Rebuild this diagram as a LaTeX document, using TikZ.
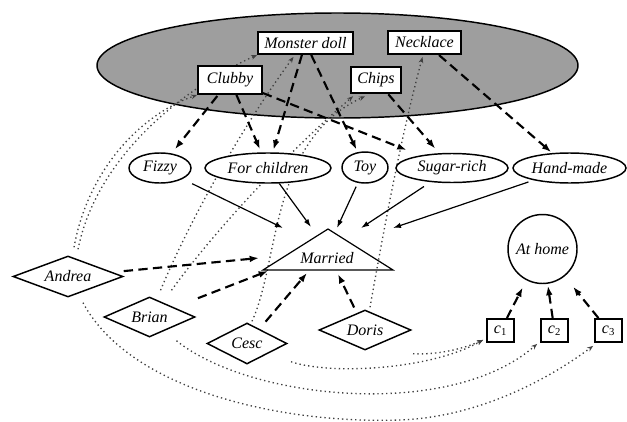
\documentclass[tikz,border=0pt]{standalone}
\usepackage{fontspec}
\setmainfont{Liberation Serif}
\usetikzlibrary{shapes.geometric,arrows.meta}
\pgfdeclarelayer{backdrop}
\pgfdeclarelayer{links}
\pgfsetlayers{backdrop,links,main}

\begin{document}
\begin{tikzpicture}[x=0.75pt,y=-0.75pt,
  font=\fontsize{12}{14}\selectfont\itshape,
  every node/.style={inner sep=0pt},
  gift/.style={draw,fill=white,line width=1.4pt,rectangle},
  attr/.style={draw,fill=white,ellipse,line width=1.1pt},
  person/.style={draw,fill=white,diamond,aspect=2.5,line width=1.1pt},
  cvar/.style={draw,fill=white,line width=1.4pt,minimum width=20.25pt,minimum height=17.25pt},
  dep/.style={line width=0.9pt,-{Latex[length=6pt,width=4pt]}},
  infl/.style={line width=1.6pt,dash pattern=on 7pt off 4pt,-{Latex[length=7pt,width=5pt]}},
  link/.style={black!75,line width=1pt,dash pattern=on 1pt off 2.3pt,-{Stealth[length=4.5pt,width=3.5pt]}}
]
\useasboundingbox (0,0) rectangle (627,421);

% shaded set of gifts
\begin{pgfonlayer}{backdrop}
\node[draw,fill=black!38,ellipse,line width=1.1pt,minimum width=360.75pt,minimum height=78.75pt] (gifts) at (337.5,65.5) {};
\end{pgfonlayer}

% gifts
\node[gift,minimum width=71.25pt,minimum height=16.5pt] (monster) at (305.5,43) {Monster doll};
\node[gift,minimum width=54.75pt,minimum height=17.5pt] (necklace) at (424.5,42.5) {Necklace};
\node[gift,minimum width=48pt,minimum height=21pt] (clubby) at (230,80) {Clubby};
\node[gift,minimum width=37.5pt,minimum height=20pt] (chips) at (376,80) {Chips};

% attributes of gifts
\node[attr,minimum width=46.5pt,minimum height=22.5pt] (fizzy) at (160,168) {Fizzy};
\node[attr,minimum width=94.5pt,minimum height=22.5pt] (forchildren) at (268,168) {For children};
\node[attr,minimum width=34.5pt,minimum height=23.25pt] (toy) at (365,167.5) {Toy};
\node[attr,minimum width=84pt,minimum height=21.75pt] (sugarrich) at (452,168) {Sugar-rich};
\node[attr,minimum width=84.75pt,minimum height=22.5pt] (handmade) at (569.5,168) {Hand-made};

% married
\coordinate (marL) at (263,270);
\coordinate (marT) at (328,229);
\coordinate (marR) at (393,270);
\draw[line width=0.9pt] (marL) -- (marT) -- (marR) -- cycle;
\node (married) at (327,258) {Married};

% at home and its cases
\node[draw,circle,line width=1.1pt,minimum size=51.75pt] (athome) at (542.5,249) {At home};
\node[cvar] (c1) at (500.5,330.5) {c\textsubscript{\upshape 1}};
\node[cvar] (c2) at (554.5,330.5) {c\textsubscript{\upshape 2}};
\node[cvar] (c3) at (608.5,330.5) {c\textsubscript{\upshape 3}};

% people
\node[person,minimum width=82.5pt,minimum height=30.75pt] (andrea) at (68,276.5) {Andrea};
\node[person,minimum width=68.25pt,minimum height=30pt] (brian) at (149.5,317) {Brian};
\node[person,minimum width=60pt,minimum height=30.75pt] (cesc) at (247,343.5) {Cesc};
\node[person,minimum width=69pt,minimum height=30pt] (doris) at (365,330) {Doris};

% gift properties
\draw[infl,shorten <=1pt,shorten >=4pt] (clubby) -- (fizzy);
\draw[infl,shorten >=2.5pt] (clubby) -- (forchildren);
\draw[infl,shorten >=2pt] (monster) -- (forchildren);
\draw[infl,shorten >=2pt] (monster) -- (toy);
\draw[infl,shorten >=11pt] (clubby) -- (sugarrich);
\draw[infl,shorten >=4.5pt] (chips) -- (sugarrich);
\draw[infl,shorten >=1pt] (necklace) -- (handmade);

% properties bearing on marriage
\coordinate (m1) at (283,228);
\coordinate (m2) at (311,227);
\coordinate (m3) at (337,228);
\coordinate (m4) at (361,228);
\coordinate (m5) at (393,228);
\draw[dep,shorten <=8pt] (fizzy) -- (m1);
\draw[dep] (forchildren) -- (m2);
\draw[dep,shorten <=3pt] (toy) -- (m3);
\draw[dep,shorten <=6pt] (sugarrich) -- (m4);
\draw[dep,shorten <=4pt] (handmade) -- (m5);

% people bearing on marriage
\coordinate (ma) at (259,258);
\coordinate (mb) at (268,271);
\coordinate (mc) at (307,273);
\coordinate (md) at (338,274);
\draw[infl,shorten <=8.5pt] (andrea) -- (ma);
\draw[infl,shorten <=19pt] (brian) -- (mb);
\draw[infl,shorten <=7pt] (cesc) -- (mc);
\draw[infl,shorten <=4.5pt] (doris) -- (md);

% cases bearing on being at home
\draw[infl,shorten >=6pt] (c1) -- (athome);
\draw[infl,shorten >=1.5pt] (c2) -- (athome);
\draw[infl,shorten >=10pt] (c3) -- (athome);

% who gave what, and which case
\begin{pgfonlayer}{links}
\draw[link] ([shift={(6,-8)}]andrea.north) .. controls (88,170) and (140,115) .. (clubby.south west);
\draw[link] ([shift={(10,-6)}]andrea.north) .. controls (95,165) and (170,95) .. (monster.south west);
\draw[link] ([shift={(11,-6)}]brian.north) .. controls (190,220) and (240,130) .. ([shift={(-12,2)}]monster.south);
\draw[link] ([shift={(22,-6)}]brian.north) .. controls (215,230) and (290,150) .. ([shift={(3,2)}]chips.south west);
\draw[link] ([shift={(5,-1)}]cesc.north) .. controls (280,260) and (270,140) .. ([shift={(-11,2)}]chips.south);
\draw[link] ([shift={(5,-2)}]doris.north) .. controls (382,240) and (400,140) .. ([shift={(-2,2)}]necklace.south);
\draw[link] ([shift={(15,5)}]andrea.south) .. controls (130,390) and (280,424) .. (400,420) .. controls (480,417) and (550,378) .. ([shift={(-1,3)}]c3.south west);
\draw[link] ([shift={(27,3)}]brian.south) .. controls (250,400) and (450,420) .. ([shift={(-3,1)}]c2.south west);
\draw[link] ([shift={(44,-3)}]cesc.south) .. controls (330,375) and (430,370) .. ([shift={(-3,-3)}]c1.south west);
\draw[link] ([shift={(48,3)}]doris.south) .. controls (440,355) and (465,348) .. ([shift={(-3,-3)}]c1.south west);
\end{pgfonlayer}
\end{tikzpicture}
\end{document}
